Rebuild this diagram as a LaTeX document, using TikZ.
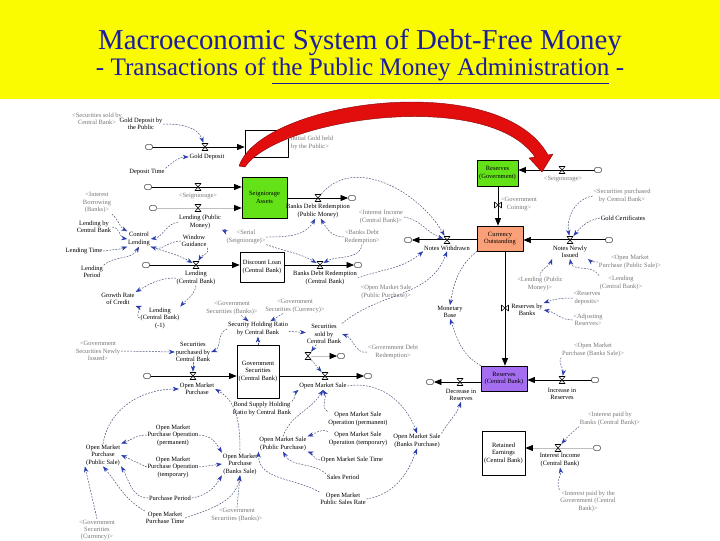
\documentclass[tikz,border=0pt]{standalone}
\usepackage{fontspec}
\setmainfont{Liberation Serif}
\usetikzlibrary{arrows.meta}

\begin{document}
\begin{tikzpicture}[x=0.025cm, y=-0.025cm, font=\fontsize{4.6}{5.3}\selectfont, line cap=round, line join=round]
  \definecolor{band}{RGB}{250,250,0}
  \definecolor{titleblue}{RGB}{28,28,160}
  \definecolor{seed}{RGB}{100,226,24}
  \definecolor{cash}{RGB}{250,160,120}
  \definecolor{vault}{RGB}{165,110,240}
  \definecolor{infoline}{RGB}{70,80,120}
  \definecolor{infotip}{RGB}{40,60,175}
  \definecolor{greytext}{RGB}{120,120,120}
  \definecolor{bigred}{RGB}{226,14,14}

  \tikzset{
    lbl/.style={align=center, inner sep=0.5pt},
    ghost/.style={lbl, text=greytext},
    stock/.style={draw=black, line width=0.45pt, align=center, inner sep=1pt},
    sink/.style={draw=black!70, line width=0.4pt, rounded corners=1.2pt, minimum width=0.18cm, minimum height=0.13cm, inner sep=0pt},
    pipe/.style={draw=black, line width=0.55pt, -{Triangle[length=1.9mm,width=1.5mm]}},
    faint/.style={draw=black!25, line width=0.55pt, -{Triangle[length=1.9mm,width=1.5mm,color=black]}},
    wide/.style={pipe, double=white, double distance=0.7pt, line width=0.45pt},
    info/.style={draw=infoline, line width=0.35pt, dash pattern=on 1.1pt off 1.1pt, -{Stealth[length=1.5mm,width=1.1mm,color=infotip]}},
    headline/.style={text=titleblue, inner sep=0pt},
    valve/.pic={\draw[black, line width=0.4pt, fill=white] (-3,-3.5) -- (3,-3.5) -- (-3,3.5) -- (3,3.5) -- cycle;}
  }

  \useasboundingbox (0,0) rectangle (720,540);
  \fill[white] (0,0) rectangle (720,540);
  \fill[band] (0,0) rectangle (720,99);
  \node[headline, font=\fontsize{20.5}{24}\selectfont] (ttl) at (360,42) {Macroeconomic System of Debt-Free Money};
  \node[headline, font=\fontsize{17.9}{21}\selectfont] (sub) at (360,71) {- Transactions of \underline{the Public Money Administration} -};

  \node[stock, fill=white, minimum width=1.075cm, minimum height=0.675cm] (gold) at (266.5,143.5) {Gold};
  \node[stock, fill=seed, minimum width=1.125cm, minimum height=1.025cm] (sa) at (264.5,197.5) {Seigniorage\\Assets};
  \node[stock, fill=white, minimum width=1.1cm, minimum height=0.75cm] (dl) at (262,267) {Discount Loan\\(Central Bank)};
  \node[stock, fill=white, minimum width=1.05cm, minimum height=1.325cm] (gscb) at (258,371.5) {Government\\Securities\\(Central Bank)};
  \node[stock, fill=seed, minimum width=1.025cm, minimum height=0.65cm] (rg) at (497.5,173) {Reserves\\(Government)};
  \node[stock, fill=cash, minimum width=1.15cm, minimum height=0.625cm] (co) at (500,238.5) {Currency\\Outstanding};
  \node[stock, fill=vault, minimum width=1.15cm, minimum height=0.625cm] (rcb) at (504,378.5) {Reserves\\(Central Bank)};
  \node[stock, fill=white, minimum width=1.075cm, minimum height=1.1cm] (re) at (503.5,453) {Retained\\Earnings\\(Central Bank)};

  \foreach \cn/\cx/\cy in {c1/149/147, c2/148/187, c3/153/208, c4/146/265, c5/147/376, c6/352/198, c7/358/265, c8/368/376, c9/341/356, c10/598/170, c11/408/240, c12/609/240, c13/430/382, c14/595/380, c15/597/448}
    \node[sink] (\cn) at (\cx,\cy) {};

  \draw[pipe] (c1.east) -- (gold.west |- c1);
  \draw[pipe] (c2.east) -- (sa.west |- c2);
  \draw[faint] (c3.east) -- (sa.west |- c3);
  \draw[pipe] (c4.east) -- (dl.west |- c4);
  \draw[pipe] (c5.east) -- (gscb.west |- c5);
  \draw[pipe] (sa.east |- c6) -- (c6.west);
  \draw[pipe] (dl.east |- c7) -- (c7.west);
  \draw[pipe] (gscb.east |- c8) -- (c8.west);
  \draw[pipe] (c10.west) -- (rg.east |- c10);
  \draw[pipe] (rg.south -| 498,0) -- (co.north -| 498,0);
  \draw[wide] (co.west |- c11) -- (c11.east);
  \draw[wide] (c12.west) -- (co.east |- c12);
  \draw[pipe] (co.south -| 505,0) -- (rcb.north -| 505,0);
  \draw[pipe] (rcb.west |- c13) -- (c13.east);
  \draw[pipe] (c14.west) -- (rcb.east |- c14);
  \draw[faint] (c15.west) -- (re.east |- c15);

  \foreach \vn/\vx/\vy/\vr in {v1/205/147/0, v2/198/187/0, v3/198/208/0, v4/196/265/0, v5/193/376/0, v6/318/198/0, v7/320/265/0, v8/325/376/0, v9/308/356/0, v10/562/170/0, v11/498/205/90, v12/447/240/0, v13/570/240/0, v14/505/308/90, v15/460/382/0, v16/562/380/0, v17/558/448/0}
    {
      \node[inner sep=0pt, minimum width=0.16cm, minimum height=0.2cm] (\vn) at (\vx,\vy) {};
      \pic[rotate=\vr] at (\vn) {valve};
    }
  \draw[faint] (v9.east) -- (c9.west);

  \fill[bigred, draw=bigred!60!black, line width=0.3pt] (239,166) .. controls (262,100) and (500,68) .. (548,155) -- (553,154) -- (542,172) -- (529,158) -- (535,157) .. controls (488,88) and (278,118) .. (245,167) -- cycle;

  \node[ghost] (g1) at (97,119) {<Securities sold by\\Central Bank>};
  \node[lbl] (gdp) at (141,124) {Gold Deposit by\\the Public};
  \node[lbl] (gdep) at (207,157) {Gold Deposit};
  \node[lbl] (dtime) at (147,172) {Deposit Time};
  \node[ghost] (g2) at (198,196) {<Seigniorage>};
  \node[ghost] (g3) at (97,203) {<Interest\\Borrowing\\(Banks)>};
  \node[lbl] (lpm) at (200,222) {Lending (Public\\Money)};
  \node[lbl] (lbcb) at (94,227) {Lending by\\Central Bank};
  \node[lbl] (ctrl) at (139,239) {Control\\Lending};
  \node[lbl] (wg) at (194,241) {Window\\Guidance};
  \node[lbl] (ltime) at (84,251) {Lending Time};
  \node[lbl] (lper) at (92,272) {Lending\\Period};
  \node[lbl] (lcb) at (196,278) {Lending\\(Central Bank)};
  \node[lbl] (grc) at (118,299) {Growth Rate\\of Credit};
  \node[lbl] (lcb1) at (160,318) {Lending\\(Central Bank)\\(-1)};
  \node[ghost] (g21) at (98,351) {<Government\\Securities Newly\\Issued>};
  \node[lbl] (spcb) at (193,352) {Securities\\purchased by\\Central Bank};
  \node[lbl] (omp) at (197,389) {Open Market\\Purchase};

  \node[ghost] (g4) at (310,143) {<Initial Gold held\\by the Public>};
  \node[lbl] (bdrpm) at (318,211) {Banks Debt Redemption\\(Public Money)};
  \node[ghost] (g5) at (246,237) {<Serial\\(Seigniorage)>};
  \node[ghost] (g6) at (362,237) {<Banks Debt\\Redemption>};
  \node[ghost] (g7) at (381,217) {<Interest Income\\(Central Bank)>};
  \node[lbl] (bdrcb) at (325,278) {Banks Debt Redemption\\(Central Bank)};
  \node[ghost] (g17) at (386,292) {<Open Market Sale\\(Public Purchase)>};
  \node[ghost] (g19) at (232,308) {<Government\\Securities (Banks)>};
  \node[ghost] (g20) at (295,306) {<Government\\Securities (Currency)>};
  \node[lbl] (shr) at (258,329) {Security Holding Ratio\\by Central Bank};
  \node[lbl] (sscb) at (324,334) {Securities\\sold by\\Central Bank};
  \node[ghost] (g18) at (393,352) {<Government Debt\\Redemption>};
  \node[lbl] (oms) at (323,386) {Open Market Sale};
  \node[lbl] (bshr) at (262,409) {Bond Supply Holding\\Ratio by Central Bank};

  \node[lbl] (ompop) at (173,435) {Open Market\\Purchase Operation\\(permanent)};
  \node[lbl] (omppub) at (103,455) {Open Market\\Purchase\\(Public Sale)};
  \node[lbl] (ompot) at (173,467) {Open Market\\Purchase Operation\\(temporary)};
  \node[lbl] (omppb) at (240,464) {Open Market\\Purchase\\(Banks Sale)};
  \node[lbl] (pper) at (170,498) {Purchase Period};
  \node[lbl] (ompt) at (165,518) {Open Market\\Purchase Time};
  \node[ghost] (g22) at (97,530) {<Government\\Securities\\(Currency)>};
  \node[ghost] (g23) at (237,515) {<Government\\Securities (Banks)>};

  \node[lbl] (omsop) at (358,419) {Open Market Sale\\Operation (permanent)};
  \node[lbl] (omspub) at (283,444) {Open Market Sale\\(Public Purchase)};
  \node[lbl] (omsot) at (358,439) {Open Market Sale\\Operation (temporary)};
  \node[lbl] (omst) at (352,460) {Open Market Sale Time};
  \node[lbl] (sper) at (343,477) {Sales Period};
  \node[lbl] (omsr) at (343,499) {Open Market\\Public Sales Rate};
  \node[lbl] (omsbp) at (417,441) {Open Market Sale\\(Banks Purchase)};

  \node[ghost] (g8) at (563,179) {<Seigniorage>};
  \node[ghost] (g9) at (519,204) {<Government\\Coining>};
  \node[ghost] (g10) at (622,196) {<Securities purchased\\by Central Bank>};
  \node[lbl] (gc) at (623,218) {Gold Certificates};
  \node[lbl] (nw) at (447,248) {Notes Withdrawn};
  \node[lbl] (nni) at (570,252) {Notes Newly\\Issued};
  \node[ghost] (g11) at (630,262) {<Open Market\\Purchase (Public Sale)>};
  \node[ghost] (g13) at (540,284) {<Lending (Public\\Money)>};
  \node[ghost] (g12) at (621,283) {<Lending\\(Central Bank)>};
  \node[ghost] (g14) at (587,298) {<Reserves\\deposits>};
  \node[lbl] (mb) at (450,312) {Monetary\\Base};
  \node[lbl] (rbb) at (527,310) {Reserves by\\Banks};
  \node[ghost] (g15) at (588,320) {<Adjusting\\Reserves>};
  \node[ghost] (g16) at (593,350) {<Open Market\\Purchase (Banks Sale)>};
  \node[lbl] (dir) at (461,395) {Decrease in\\Reserves};
  \node[lbl] (inr) at (562,394) {Increase in\\Reserves};
  \node[ghost] (g24) at (610,419) {<Interest paid by\\Banks (Central Bank)>};
  \node[lbl] (iicb) at (560,460) {Interest Income\\(Central Bank)};
  \node[ghost] (g25) at (588,501) {<Interest paid by the\\Government (Central\\Bank)>};

  \draw[info] (gdp.east) to[out=0,in=110] (v1);
  \draw[info] (dtime.north east) to[out=40,in=180] (gdep.west);
  \draw[info] (g3.south east) to[out=-40,in=150] (ctrl.north west);
  \draw[info] (lbcb.east) to[out=0,in=170] (ctrl.west);
  \draw[info] (ltime.east) to[out=10,in=200] (ctrl.south west);
  \draw[info] (lper.north east) to[out=40,in=240] (ctrl.south);
  \draw[info] (lpm.west) to[out=190,in=10] (ctrl.east);
  \draw[info] (wg.west) to[out=180,in=-20] (ctrl.south east);
  \draw[info] (g5.north west) to[out=150,in=-30] (lpm.south east);
  \draw[info] (ctrl.south east) to[out=-20,in=150] (v4);
  \draw[info] (wg.south east) to[out=-60,in=60] (v4);
  \draw[info] (lcb.west) to[out=180,in=30] (grc.north east);
  \draw[info] (lcb1.west) to[out=190,in=-20] (grc.south east);
  \draw[info] (lcb.south) to[out=-100,in=50] (lcb1.north east);
  \draw[info] (g21.east) -- (spcb.west);
  \draw[info] (spcb.south) -- (v5);
  \draw[info] (shr.west) to[out=200,in=20] (spcb.east);
  \draw[info] (g19) -- (shr);
  \draw[info] (g20) -- (shr);
  \draw[info] (gscb) -- (shr);
  \draw[info] (shr) -- (sscb);
  \draw[info] (sscb) -- (v9);
  \draw[info] (g18.west) to[out=190,in=-20] (sscb.east);
  \draw[info] (v9) -- (v8);
  \draw[info] (omppub.north) to[out=80,in=180] (omp.west);
  \draw[info] (omppb.north) to[out=90,in=-30] (omp.east);
  \draw[info] (ompop.west) to[out=180,in=20] (omppub.north east);
  \draw[info] (ompop.east) to[out=0,in=120] (omppb.north west);
  \draw[info] (ompot.west) -- (omppub.east);
  \draw[info] (ompot.east) -- (omppb.west);
  \draw[info] (pper.west) to[out=180,in=-60] (omppub.south east);
  \draw[info] (pper.east) to[out=10,in=-120] (omppb.south west);
  \draw[info] (ompt.north west) to[out=150,in=-50] (omppub.south);
  \draw[info] (ompt.east) to[out=20,in=-100] (omppb.south);
  \draw[info] (g22.north) -- (omppub.south west);
  \draw[info] (g23.north) -- (omppb.south);
  \draw[info] (omspub.north) to[out=70,in=240] (oms.south);
  \draw[info] (omsop.north west) to[out=150,in=300] (oms.south);
  \draw[info] (omsot.north west) to[out=160,in=20] (omspub.north east);
  \draw[info] (omst.west) to[out=180,in=-20] (omspub.south east);
  \draw[info] (sper.north west) to[out=140,in=-60] (omspub.south);
  \draw[info] (omsr.north west) to[out=150,in=-90] (omspub.south west);
  \draw[info] (omsr.east) to[out=10,in=250] (omsbp.south);
  \draw[info] (oms.east) to[out=10,in=110] (omsbp.north);
  \draw[info] (omsbp.north east) to[out=60,in=250] (dir.south);
  \draw[info] (bshr.north east) to[out=40,in=220] (oms.south west);
  \draw[info] (v6) to[out=50,in=120] (v12);
  \draw[info] (g7.east) to[out=-10,in=160] (v12);
  \draw[info] (bdrcb.east) to[out=20,in=220] (nw.south west);
  \draw[info] (sscb.north east) to[out=40,in=250] (nw.south);
  \draw[info] (g5.east) to[out=0,in=240] (bdrpm.250);
  \draw[info] (g6.west) to[out=180,in=300] (bdrpm.290);
  \draw[info] (g5.south east) to[out=-20,in=150] (v7);
  \draw[info] (g6.south) to[out=-100,in=30] (v7);
  \draw[info] (co.south west) to[out=220,in=80] (mb.north);
  \draw[info] (rcb.north west) to[out=150,in=-70] (mb.south);
  \draw[info] (g14.west) to[out=180,in=20] (rbb.north east);
  \draw[info] (g15.west) to[out=180,in=-10] (rbb.east);
  \draw[info] (g13.north) to[out=90,in=-110] (nni.south west);
  \draw[info] (g11.west) to[out=180,in=-40] (nni.south east);
  \draw[info] (g12.north west) to[out=120,in=-80] (nni.south);
  \draw[info] (g10.west) to[out=190,in=100] (v13);
  \draw[info] (gc.west) to[out=190,in=50] (v13);
  \draw[info] (g16.south west) to[out=240,in=80] (v16);
  \draw[info] (g24.south west) to[out=220,in=50] (v17);
  \draw[info] (g25.north west) to[out=120,in=-80] (iicb.south);
\end{tikzpicture}
\end{document}
